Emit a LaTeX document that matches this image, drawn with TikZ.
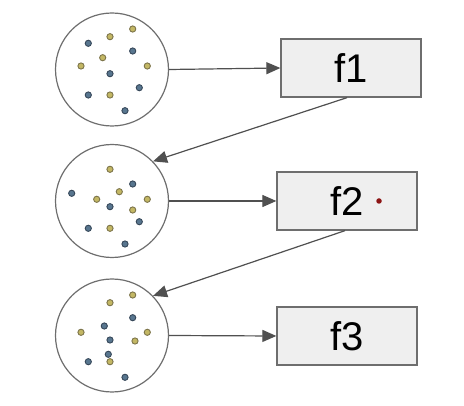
\documentclass[tikz,border=0pt]{standalone}
\usepackage{fontspec}
\setmainfont{Liberation Sans}
\usetikzlibrary{arrows.meta}
\definecolor{edgegray}{RGB}{110,110,110}
\definecolor{arrowgray}{RGB}{80,80,80}
\definecolor{boxfill}{RGB}{239,239,239}
\definecolor{dotyel}{RGB}{195,183,100}
\definecolor{dotyeledge}{RGB}{125,117,75}
\definecolor{dotblue}{RGB}{88,118,143}
\definecolor{dotblueedge}{RGB}{55,72,90}
\definecolor{reddot}{RGB}{140,20,20}
\begin{document}
\begin{tikzpicture}[x=1pt,y=-1pt,
  pool/.style={circle,draw=edgegray,fill=white,line width=1.2pt,minimum size=113pt,inner sep=0pt},
  fbox/.style={rectangle,draw=edgegray,fill=boxfill,line width=1.3pt,minimum width=140pt,minimum height=58pt,inner sep=0pt,font=\fontsize{40}{40}\selectfont},
  link/.style={draw=arrowgray,line width=1.2pt,-{Triangle[length=14pt,width=12pt]}},
  ydot/.style={circle,fill=dotyel,draw=dotyeledge,line width=0.9pt,minimum size=6.2pt,inner sep=0pt},
  bdot/.style={circle,fill=dotblue,draw=dotblueedge,line width=0.9pt,minimum size=6.2pt,inner sep=0pt}]
\useasboundingbox (0,0) rectangle (464,406);

% data pools
\node[pool] (c1) at (112,69.5) {};
\node[pool] (c2) at (112,201) {};
\node[pool] (c3) at (112,335.5) {};

% function boxes
\node[fbox] (f1) at (351,68) {f1};
\node[fbox] (f2) at (347,201) {f2\hspace{30pt}};
\node[fbox] (f3) at (347,336) {f3};
\node[circle,fill=reddot,minimum size=5.5pt,inner sep=0pt] (mark) at (379,201) {};

% points in first pool
\foreach \x/\y/\s [count=\i] in {132.7/29/ydot,110/36.7/ydot,88.3/43.3/bdot,132.7/51/bdot,102.7/57.7/ydot,81/66/ydot,147.3/66/ydot,110/73.7/bdot,139.3/87.7/bdot,88.3/95/bdot,110/95/ydot,125/110.7/bdot}
  \node[\s] (pa\i) at (\x,\y) {};
% points in second pool
\foreach \x/\y/\s [count=\i] in {110/169.3/ydot,132.7/184/bdot,71.7/193.3/bdot,119.3/191.7/ydot,96.7/199.3/ydot,147.3/199.3/ydot,110/206.7/bdot,132.7/210/ydot,139.3/221.7/bdot,88.3/228.3/bdot,110/228.3/ydot,125/244/bdot}
  \node[\s] (pb\i) at (\x,\y) {};
% points in third pool
\foreach \x/\y/\s [count=\i] in {132.7/295/ydot,110/302.7/ydot,132.7/317.7/bdot,104.3/326/bdot,81/332.3/ydot,147.3/332.3/ydot,110/340/bdot,135/341/ydot,108.3/354.3/bdot,110/361.7/ydot,88.3/361.7/bdot,125/377.3/bdot}
  \node[\s] (pc\i) at (\x,\y) {};

% connectors
\draw[link] (c1.east) -- (f1.west);
\draw[link] ([xshift=-4pt]f1.south) -- (c2.44);
\draw[link] (c2.east) -- (f2.west);
\draw[link] ([xshift=-2pt]f2.south) -- (c3.44);
\draw[link] (c3.east) -- (f3.west);
\end{tikzpicture}
\end{document}
